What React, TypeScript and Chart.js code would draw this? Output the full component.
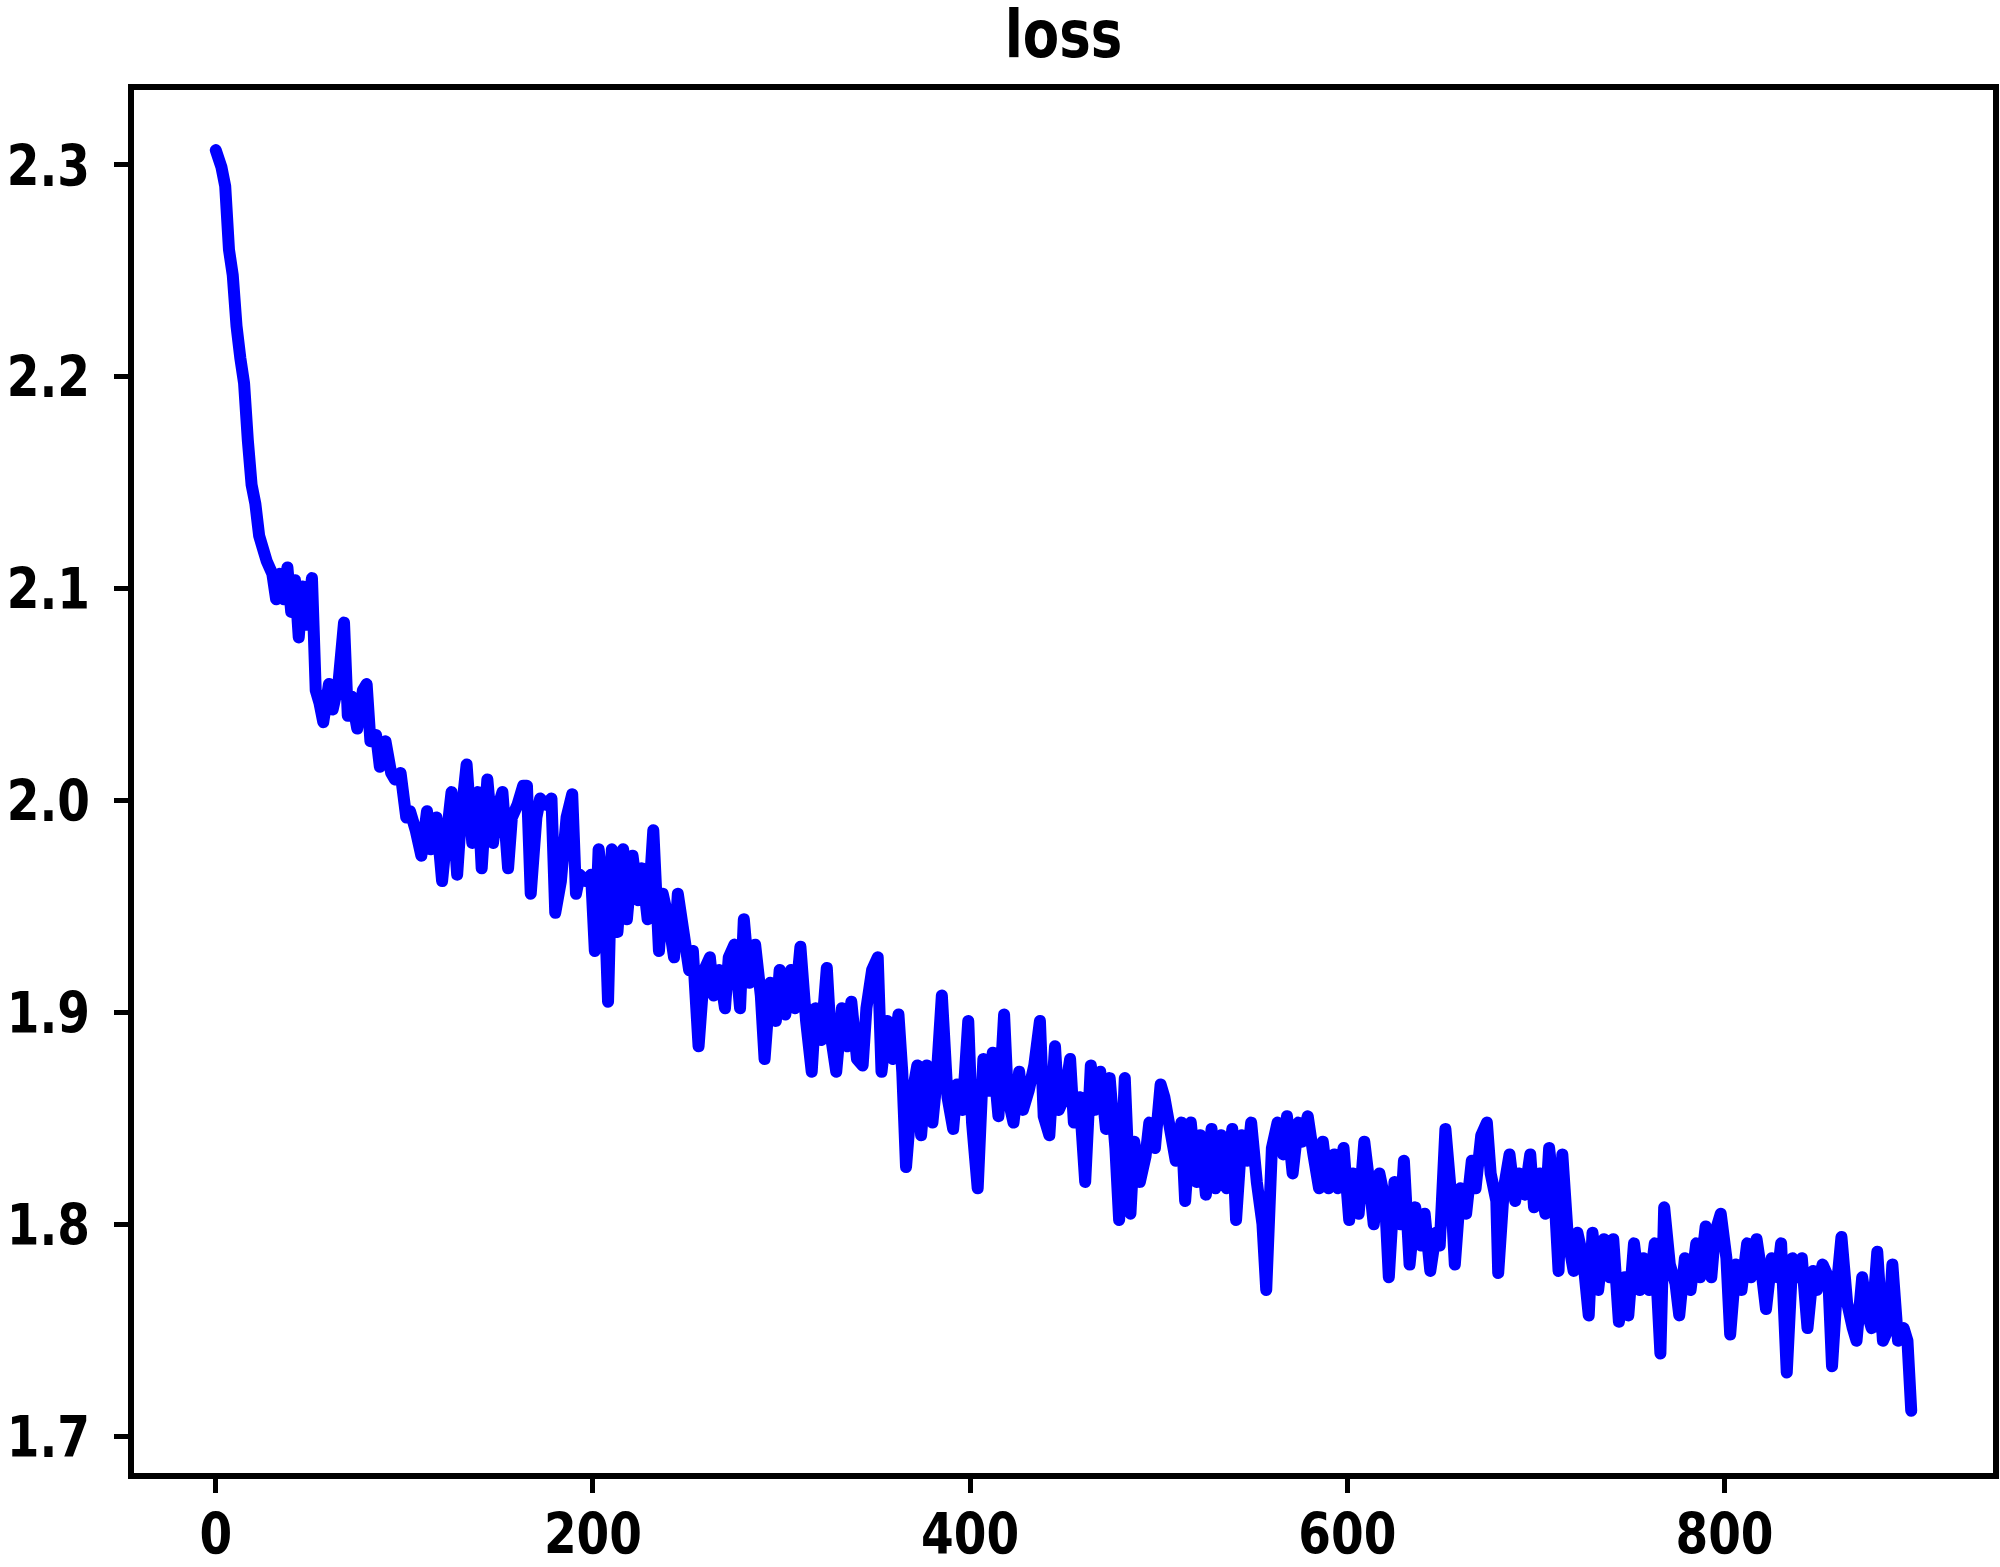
import React, { useEffect, useRef } from "react";
import { Chart, registerables } from "chart.js";

Chart.register(...registerables);

const title = "loss";

const steps = [
  0, 3, 5, 7, 9, 11, 13, 15, 17, 19, 21, 23, 25, 27, 30, 32, 34, 36, 38, 40, 42, 44, 46, 48, 51, 53, 55, 57, 60, 62,
  65, 68, 70, 72, 75, 78, 80, 82, 85, 87, 90, 93, 95, 98, 101, 103, 106, 109, 112, 114, 117, 120, 122, 125, 128, 130,
  133, 136, 139, 141, 144, 147, 149, 152, 155, 157, 160, 163, 165, 167, 170, 172, 175, 178, 180, 183, 186, 189, 191,
  193, 196, 199, 201, 203, 206, 208, 210, 213, 216, 218, 221, 224, 226, 229, 232, 235, 237, 240, 243, 245, 248, 251,
  253, 256, 259, 262, 264, 267, 270, 272, 275, 278, 280, 283, 286, 289, 291, 294, 297, 299, 302, 305, 307, 310, 313,
  316, 318, 321, 324, 326, 329, 332, 335, 337, 340, 343, 345, 348, 351, 353, 356, 359, 362, 364, 366, 369, 372, 374,
  377, 380, 382, 385, 388, 391, 393, 396, 399, 401, 404, 407, 410, 412, 415, 418, 420, 423, 426, 428, 431, 434, 437,
  439, 442, 445, 447, 450, 453, 455, 458, 461, 464, 466, 469, 472, 474, 477, 479, 482, 485, 487, 490, 493, 495, 498,
  501, 503, 506, 509, 512, 514, 517, 520, 522, 525, 528, 530, 533, 536, 539, 541, 544, 547, 549, 552, 555, 557, 560,
  563, 566, 568, 571, 574, 576, 579, 582, 585, 587, 590, 593, 595, 598, 601, 603, 606, 609, 612, 614, 617, 620, 622,
  625, 628, 630, 633, 636, 639, 641, 644, 647, 649, 652, 655, 657, 660, 663, 666, 668, 671, 674, 676, 679, 680, 683,
  686, 689, 691, 694, 697, 699, 702, 705, 707, 710, 712, 714, 717, 720, 722, 725, 728, 730, 733, 736, 739, 741, 744,
  747, 749, 752, 755, 757, 760, 763, 766, 768, 771, 774, 776, 779, 782, 785, 787, 790, 793, 795, 798, 801, 803, 806,
  809, 812, 814, 817, 820, 822, 825, 828, 830, 833, 836, 839, 841, 844, 847, 849, 852, 855, 857, 860, 862, 865, 868,
  870, 873, 876, 878, 881, 884, 887, 889, 892, 895, 897, 899,
];

const losses = [
  2.307, 2.299, 2.29, 2.26, 2.248, 2.224, 2.209, 2.197, 2.17, 2.149, 2.14, 2.125, 2.119, 2.113, 2.107, 2.095, 2.107,
  2.095, 2.11, 2.089, 2.104, 2.077, 2.101, 2.083, 2.105, 2.052, 2.046, 2.037, 2.055, 2.043, 2.055, 2.084, 2.04, 2.049,
  2.034, 2.052, 2.055, 2.028, 2.031, 2.016, 2.028, 2.013, 2.01, 2.013, 1.992, 1.995, 1.986, 1.974, 1.995, 1.977, 1.992,
  1.962, 1.98, 2.004, 1.965, 1.992, 2.017, 1.98, 2.004, 1.968, 2.01, 1.98, 1.995, 2.004, 1.968, 1.992, 1.998, 2.007,
  2.007, 1.956, 1.992, 2.001, 1.998, 2.001, 1.947, 1.962, 1.992, 2.003, 1.956, 1.965, 1.962, 1.965, 1.929, 1.977,
  1.956, 1.905, 1.977, 1.938, 1.977, 1.944, 1.974, 1.953, 1.968, 1.944, 1.986, 1.929, 1.956, 1.944, 1.926, 1.956,
  1.938, 1.92, 1.929, 1.884, 1.92, 1.926, 1.908, 1.92, 1.902, 1.926, 1.932, 1.902, 1.944, 1.914, 1.932, 1.908, 1.878,
  1.914, 1.896, 1.92, 1.899, 1.92, 1.902, 1.931, 1.896, 1.872, 1.902, 1.887, 1.921, 1.89, 1.872, 1.902, 1.884, 1.905,
  1.878, 1.875, 1.902, 1.92, 1.926, 1.872, 1.896, 1.878, 1.899, 1.872, 1.827, 1.86, 1.875, 1.842, 1.875, 1.848, 1.866,
  1.908, 1.86, 1.845, 1.866, 1.854, 1.896, 1.848, 1.817, 1.878, 1.863, 1.881, 1.851, 1.899, 1.86, 1.848, 1.872, 1.854,
  1.863, 1.875, 1.896, 1.851, 1.842, 1.884, 1.854, 1.86, 1.878, 1.848, 1.86, 1.82, 1.875, 1.854, 1.872, 1.845, 1.869,
  1.836, 1.802, 1.869, 1.805, 1.839, 1.82, 1.832, 1.848, 1.836, 1.866, 1.86, 1.845, 1.83, 1.848, 1.811, 1.848, 1.82,
  1.842, 1.814, 1.845, 1.817, 1.842, 1.817, 1.845, 1.802, 1.842, 1.83, 1.848, 1.82, 1.8, 1.769, 1.836, 1.848, 1.833,
  1.851, 1.824, 1.848, 1.839, 1.851, 1.833, 1.817, 1.839, 1.817, 1.833, 1.817, 1.836, 1.802, 1.824, 1.805, 1.839,
  1.817, 1.8, 1.824, 1.811, 1.775, 1.82, 1.8, 1.83, 1.781, 1.808, 1.79, 1.805, 1.778, 1.796, 1.79, 1.845, 1.814, 1.781,
  1.817, 1.805, 1.83, 1.817, 1.842, 1.848, 1.824, 1.811, 1.777, 1.817, 1.833, 1.811, 1.824, 1.814, 1.833, 1.808, 1.824,
  1.805, 1.836, 1.811, 1.778, 1.833, 1.793, 1.778, 1.796, 1.784, 1.757, 1.796, 1.769, 1.793, 1.775, 1.793, 1.754,
  1.775, 1.757, 1.791, 1.769, 1.784, 1.769, 1.791, 1.739, 1.808, 1.781, 1.772, 1.757, 1.784, 1.769, 1.791, 1.775,
  1.799, 1.775, 1.796, 1.805, 1.784, 1.748, 1.781, 1.769, 1.791, 1.775, 1.793, 1.775, 1.76, 1.784, 1.775, 1.791, 1.73,
  1.784, 1.775, 1.784, 1.751, 1.778, 1.769, 1.781, 1.775, 1.733, 1.775, 1.794, 1.763, 1.751, 1.745, 1.775, 1.757,
  1.751, 1.787, 1.745, 1.751, 1.781, 1.745, 1.751, 1.745, 1.712,
];

const xTicks = [0, 200, 400, 600, 800];
const yTicks = [1.7, 1.8, 1.9, 2.0, 2.1, 2.2, 2.3];

export default function App() {
  const ref = useRef<HTMLCanvasElement>(null);

  useEffect(() => {
    document.body.style.margin = "0";
    const canvas = ref.current;
    if (!canvas) return;
    const FAMILY = "'DejaVu Sans'";
    const TICK_SIZE = 47;
    const TICK_SY = 1.2;
    const TITLE_SIZE = 53;
    const TITLE_SY = 1.25;

    const drawStretched = (
      ctx: CanvasRenderingContext2D,
      text: string,
      x: number,
      baseline: number,
      size: number,
      sy: number,
      align: CanvasTextAlign
    ) => {
      ctx.save();
      ctx.translate(x, baseline);
      ctx.scale(1, sy);
      ctx.font = `bold ${size}px ${FAMILY}`;
      ctx.fillStyle = "#000";
      ctx.textAlign = align;
      ctx.textBaseline = "alphabetic";
      ctx.fillText(text, 0, 0);
      ctx.restore();
    };

    const frame = {
      id: "frame",
      afterDraw(chart: any) {
        const { ctx, chartArea: a } = chart;
        ctx.save();
        ctx.strokeStyle = "#000";
        ctx.lineWidth = 6;
        ctx.lineJoin = "miter";
        ctx.strokeRect(a.left, a.top, a.right - a.left, a.bottom - a.top);
        ctx.restore();

        const digitHalf = 0.3645 * TICK_SIZE * TICK_SY;
        const xs = chart.scales.x;
        xs.ticks.forEach((t: any) => {
          const px = xs.getPixelForValue(t.value);
          drawStretched(ctx, String(t.value), px, 1533 + digitHalf, TICK_SIZE, TICK_SY, "center");
        });
        const ys = chart.scales.y;
        ys.ticks.forEach((t: any) => {
          const py = ys.getPixelForValue(t.value);
          drawStretched(ctx, Number(t.value).toFixed(1), 90, py + digitHalf, TICK_SIZE, TICK_SY, "right");
        });

        drawStretched(ctx, title, (a.left + a.right) / 2, 57, TITLE_SIZE, TITLE_SY, "center");
      },
    };

    const gridOpts = {
      drawOnChartArea: false,
      drawTicks: true,
      tickLength: 17,
      tickWidth: 5,
      tickColor: "#000",
    };

    const chart = new Chart(canvas, {
      type: "line",
      data: {
        datasets: [
          {
            label: title,
            data: steps.map((s, i) => ({ x: s, y: losses[i] })),
            borderColor: "#0000ff",
            backgroundColor: "#0000ff",
            borderWidth: 12,
            pointRadius: 0,
            tension: 0,
            borderCapStyle: "round",
            borderJoinStyle: "round",
            fill: false,
          },
        ],
      },
      options: {
        responsive: false,
        animation: false,
        devicePixelRatio: 1,
        layout: { padding: { top: 87, right: 4, left: 0, bottom: 0 } },
        plugins: {
          legend: { display: false },
          title: { display: false },
          tooltip: { enabled: false },
        },
        scales: {
          x: {
            type: "linear",
            min: -44.95,
            max: 943.95,
            afterBuildTicks: (s: any) => {
              s.ticks = xTicks.map((v) => ({ value: v }));
            },
            afterFit: (s: any) => {
              s.height = 91;
            },
            grid: gridOpts,
            border: { display: false },
            ticks: { display: false, autoSkip: false, maxRotation: 0 },
          },
          y: {
            type: "linear",
            min: 1.6812,
            max: 2.3368,
            afterBuildTicks: (s: any) => {
              s.ticks = yTicks.map((v) => ({ value: v }));
            },
            afterFit: (s: any) => {
              s.width = 131;
            },
            grid: gridOpts,
            border: { display: false },
            ticks: { display: false, autoSkip: false },
          },
        },
      },
      plugins: [frame],
    });

    return () => chart.destroy();
  }, []);

  return <canvas ref={ref} width={2000} height={1567} style={{ display: "block" }} />;
}
